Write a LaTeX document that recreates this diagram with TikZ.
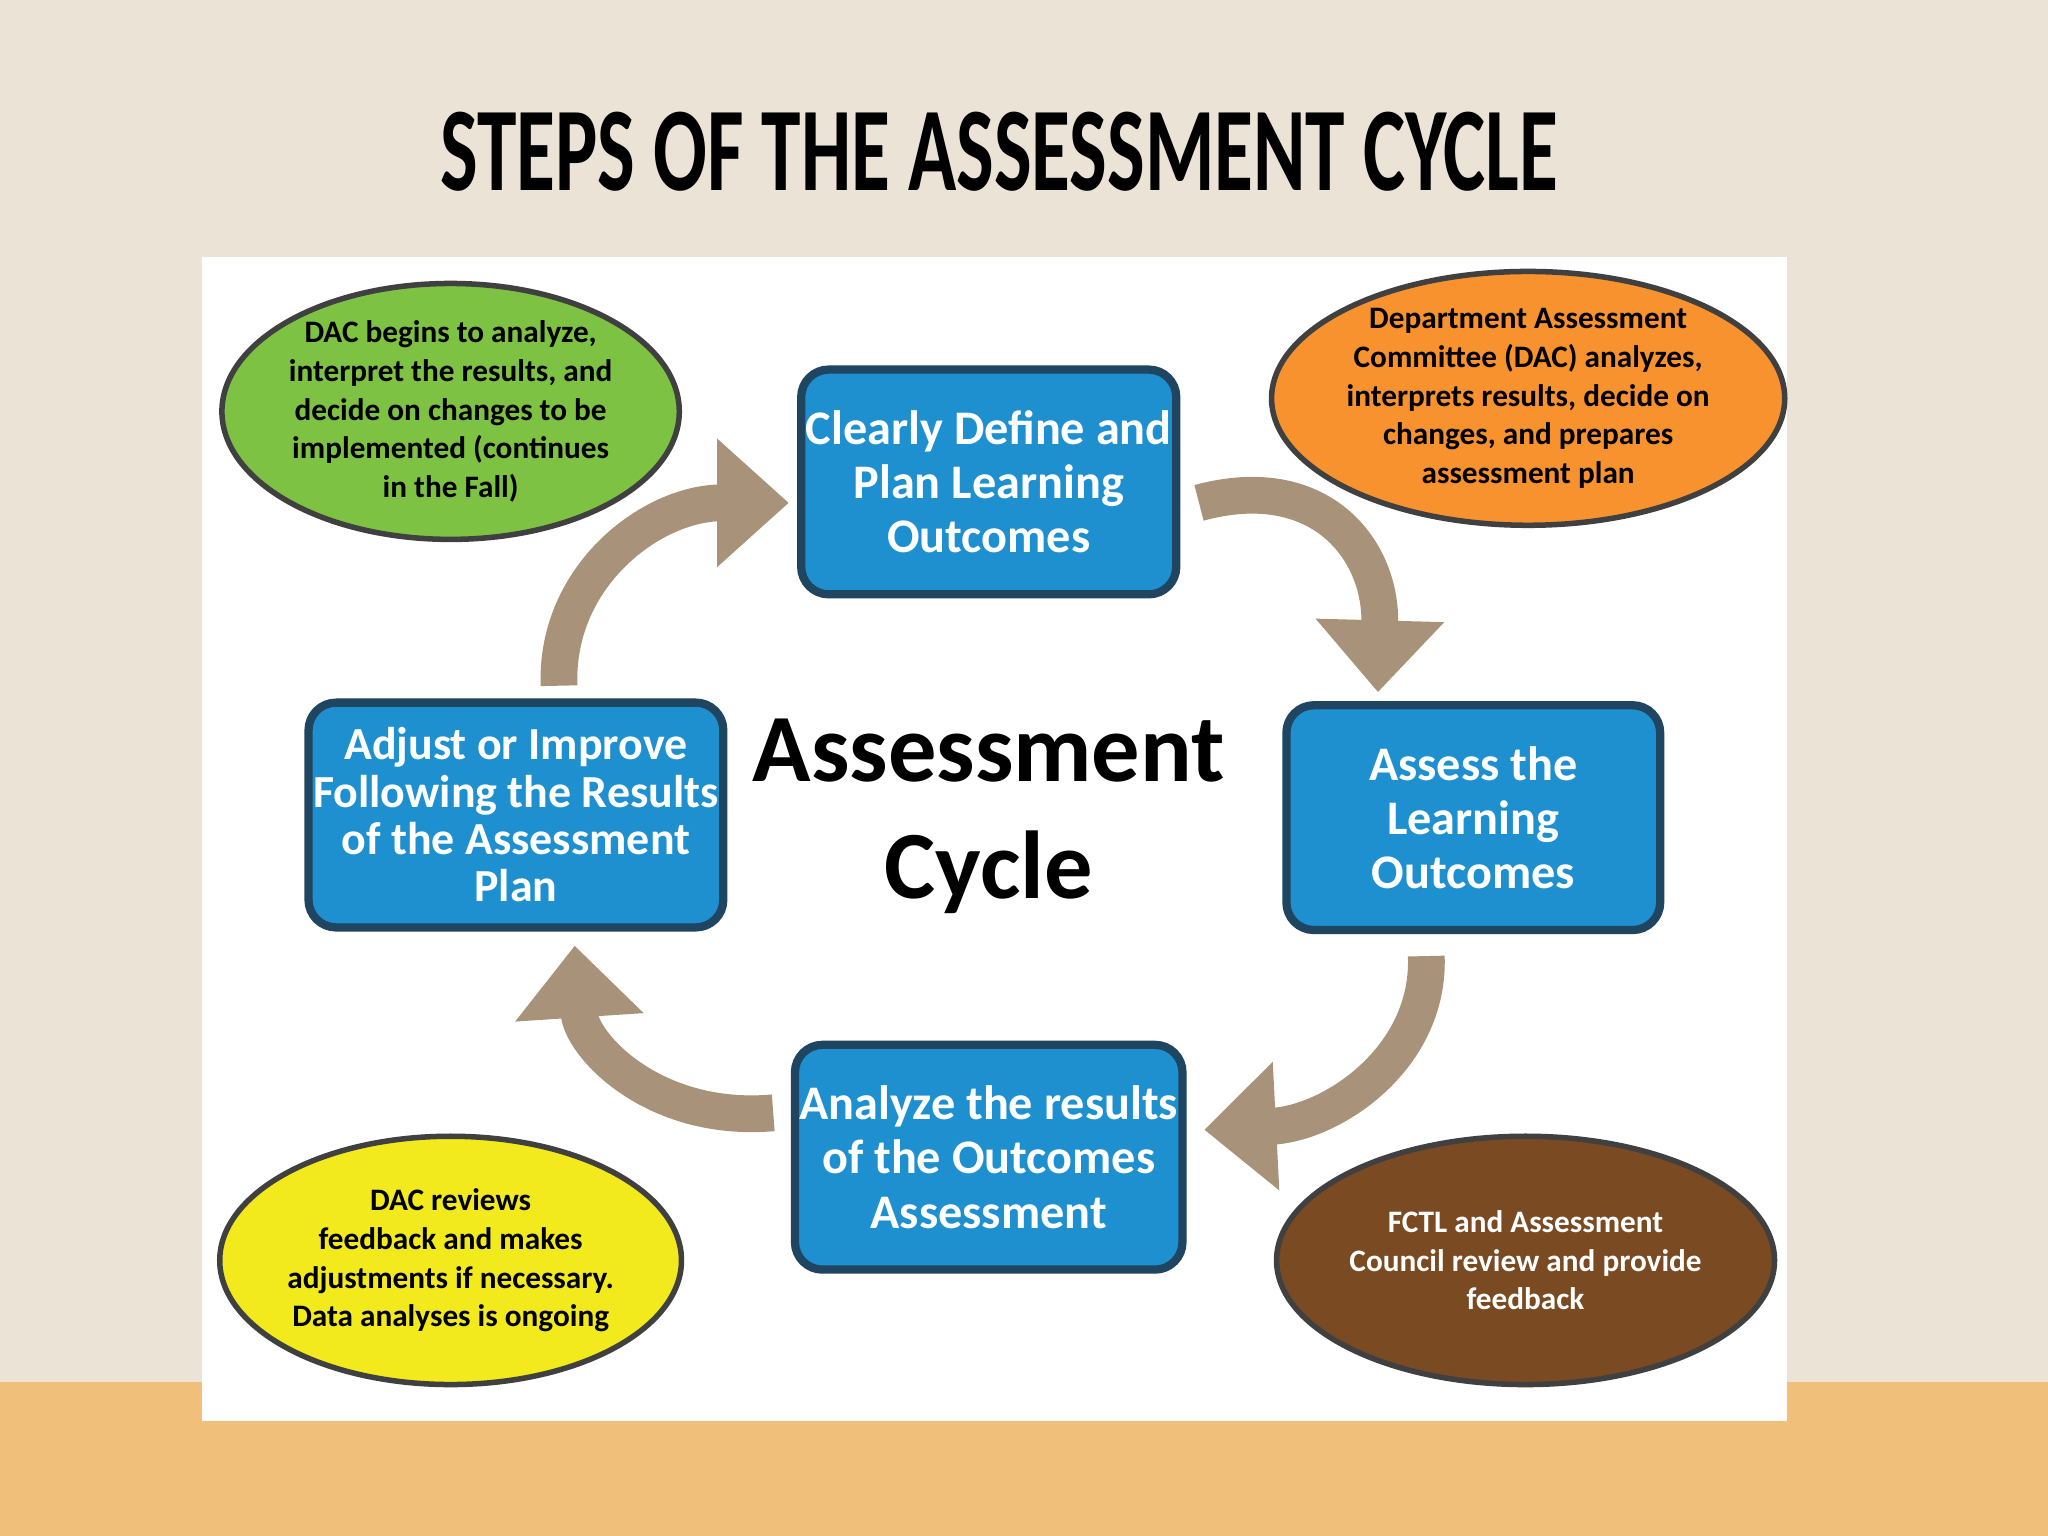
\documentclass[tikz,border=0pt]{standalone}
\usepackage{fontspec}
\setmainfont{Carlito}
\usetikzlibrary{arrows.meta,shapes.geometric}
\definecolor{bgbeige}{HTML}{EBE3D5}
\definecolor{bandor}{HTML}{F0C07A}
\definecolor{boxblue}{HTML}{1E90CF}
\definecolor{boxedge}{HTML}{1F4560}
\definecolor{arrtan}{HTML}{A8927A}
\definecolor{elgreen}{HTML}{7DC242}
\definecolor{elorange}{HTML}{F7922F}
\definecolor{elyellow}{HTML}{F2EA1D}
\definecolor{elbrown}{HTML}{7A4A22}
\tikzset{
 stepbox/.style={draw=boxedge,line width=1.8pt,fill=boxblue,rounded corners=6pt,minimum width=2.86cm,minimum height=1.72cm,inner sep=1pt,align=center,text=white,font=\fontsize{10.5}{11.8}\selectfont\bfseries},
 note/.style={ellipse,draw=black!75,line width=1.2pt,align=center,inner sep=0pt,font=\fontsize{6.8}{8.4}\selectfont\bfseries},
 cyc/.style={arrtan,line width=8pt,-{Triangle[length=0.55cm,width=0.95cm]}}
}
\begin{document}
\begin{tikzpicture}[x=0.01cm,y=-0.01cm]
\useasboundingbox (0,0) rectangle (1568,1176);
\fill[bgbeige] (0,0) rectangle (1568,1176);
\fill[bandor] (0,1058) rectangle (1568,1176);
\fill[white] (155,197) rectangle (1368,1088);
\node (title) at (765,116) {\resizebox{8.55cm}{0.6cm}{\bfseries STEPS OF THE ASSESSMENT CYCLE}};
\node[stepbox] (top) at (757,369) {Clearly Define and\\Plan Learning\\Outcomes};
\node[stepbox] (right) at (1128,626) {Assess the\\Learning\\Outcomes};
\node[stepbox] (bottom) at (757,886) {Analyze the results\\of the Outcomes\\Assessment};
\node[stepbox,minimum width=2.89cm,font=\fontsize{10}{10.3}\selectfont\bfseries] (left) at (395,624) {Adjust or Improve\\Following the Results\\of the Assessment\\Plan};
\node[font=\fontsize{21}{25.5}\selectfont\bfseries,align=center] (center) at (757,625) {Assessment\\Cycle};
\node[note,fill=elgreen,minimum width=3.2cm,minimum height=1.7cm] (g) at (345,315) {DAC begins to analyze,\\interpret the results, and\\decide on changes to be\\implemented (continues\\in the Fall)};
\node[note,fill=elorange,minimum width=3.24cm,minimum height=1.9cm] (o) at (1170,305) {Department Assessment\\Committee (DAC) analyzes,\\interprets results, decide on\\changes, and prepares\\assessment plan};
\node[note,fill=elyellow,minimum width=3.2cm,minimum height=1.9cm] (y) at (345,965) {DAC reviews\\feedback and makes\\adjustments if necessary.\\Data analyses is ongoing};
\node[note,fill=elbrown,text=white,minimum width=3.2cm,minimum height=1.9cm] (b) at (1168,965) {FCTL and Assessment\\Council review and provide\\feedback};
\coordinate (a1s) at (918,385); \coordinate (a1e) at (1055,530);
\coordinate (a2s) at (1092,732); \coordinate (a2e) at (922,865);
\coordinate (a3s) at (592,852); \coordinate (a3e) at (440,724);
\coordinate (a4s) at (428,525); \coordinate (a4e) at (604,385);
\draw[cyc] (a1s) .. controls (1010,360) and (1058,420) .. (a1e);
\draw[cyc] (a2s) .. controls (1095,810) and (1020,860) .. (a2e);
\draw[cyc] (a3s) .. controls (500,860) and (445,800) .. (a3e);
\draw[cyc] (a4s) .. controls (425,440) and (500,385) .. (a4e);
\end{tikzpicture}
\end{document}
